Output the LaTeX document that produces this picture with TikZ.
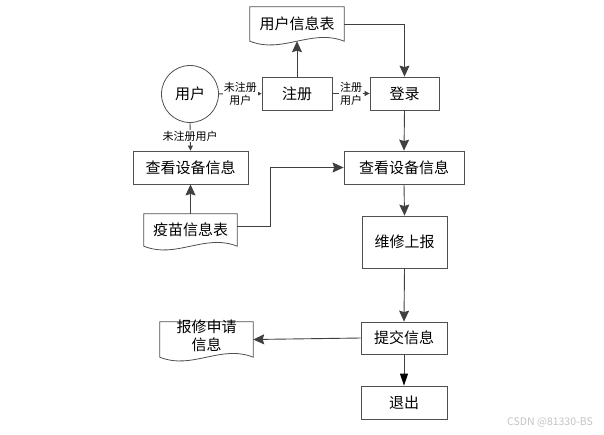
\documentclass[tikz,border=0pt]{standalone}
\usepackage{fontspec}
\setmainfont{Noto Sans CJK SC}
\usetikzlibrary{arrows.meta,calc}
\definecolor{linec}{RGB}{64,64,64}
\definecolor{boxc}{RGB}{80,80,80}
\definecolor{wm}{RGB}{195,195,195}
\tikzset{
  box/.style={draw=boxc, line width=0.8pt, fill=white, inner sep=0pt, font=\fontsize{15}{18}\selectfont},
  docnode/.style={draw=none, inner sep=0pt, font=\fontsize{15}{18}\selectfont},
  lbl/.style={fill=white, inner sep=1pt, align=center, font=\fontsize{11}{13}\selectfont},
  conn/.style={draw=linec, line width=0.9pt},
  bigarrow/.style={conn, -{Stealth[length=11pt,width=10pt,inset=1.5pt]}},
  smallarrow/.style={conn, -{Triangle[length=5pt,width=5pt]}},
  blackarrow/.style={conn, -{Triangle[length=12pt,width=8pt,fill=black,color=black]}},
}
\newcommand\docoutline[1]{%
  \draw[draw=boxc, line width=0.8pt] (#1.south west) -- (#1.north west) -- (#1.north east) -- (#1.south east)
    .. controls ($(#1.south east)!0.35!(#1.south west)+(0,13pt)$) and ($(#1.south east)!0.65!(#1.south west)+(0,-13pt)$) .. (#1.south west) -- cycle;}
\begin{document}
\begin{tikzpicture}[x=1pt,y=-1pt]
\useasboundingbox (0,0) rectangle (604,434);
% nodes
\node[docnode, minimum width=94pt, minimum height=34pt] (userdoc) at (297,24) {用户信息表};
\docoutline{userdoc}
\node[box, circle, minimum size=57pt] (user) at (190,94) {用户};
\node[box, minimum width=70pt, minimum height=33pt] (reg) at (297,93.5) {注册};
\node[box, minimum width=69pt, minimum height=33pt] (login) at (404.5,93.5) {登录};
\node[box, minimum width=115pt, minimum height=33pt] (viewL) at (190.5,167.5) {查看设备信息};
\node[box, minimum width=120pt, minimum height=33pt] (viewR) at (404,167.5) {查看设备信息};
\node[docnode, minimum width=93pt, minimum height=32pt] (vacdoc) at (190.5,230) {疫苗信息表};
\docoutline{vacdoc}
\node[box, minimum width=85pt, minimum height=52pt] (repair) at (404.5,242) {维修上报};
\node[box, minimum width=86pt, minimum height=32pt] (submit) at (404,338) {提交信息};
\node[box, minimum width=86pt, minimum height=33pt] (exit) at (404,402.5) {退出};
\node[docnode, minimum width=93pt, minimum height=35pt] (reqdoc) at (206.5,339.5) {};
\docoutline{reqdoc}
\node[docnode, align=center, font=\fontsize{15}{18}\selectfont] (reqtext) at (206.5,336) {报修申请\\信息};
% connectors
\draw[smallarrow] (user) -- (reg) node[lbl, pos=0.5] {未注册\\用户};
\draw[smallarrow] (reg) -- (login) node[lbl, pos=0.5] {注册\\用户};
\draw[bigarrow] (reg.north) -- (userdoc.south);
\draw[bigarrow] (userdoc.east) -| (login.north);
\draw[smallarrow] (user.south) -- (viewL.north) node[lbl, pos=0.47] {未注册用户};
\draw[bigarrow] (vacdoc.north) -- (viewL.south);
\draw[bigarrow] ([yshift=4pt]vacdoc.east) -- ++(33,0) |- (viewR.west);
\draw[bigarrow] (login.south) -- (viewR.north);
\draw[bigarrow] (viewR.south) -- (repair.north);
\draw[bigarrow] (repair.south) -- (submit.north);
\draw[blackarrow] (submit.south) -- (exit.north);
\draw[bigarrow] (submit.west) -- (reqdoc.east);
% watermark
\node[text=wm, font=\fontsize{10.5}{12}\selectfont, inner sep=0pt] (wmark) at (550,422) {CSDN @81330-BS};
\end{tikzpicture}
\end{document}
